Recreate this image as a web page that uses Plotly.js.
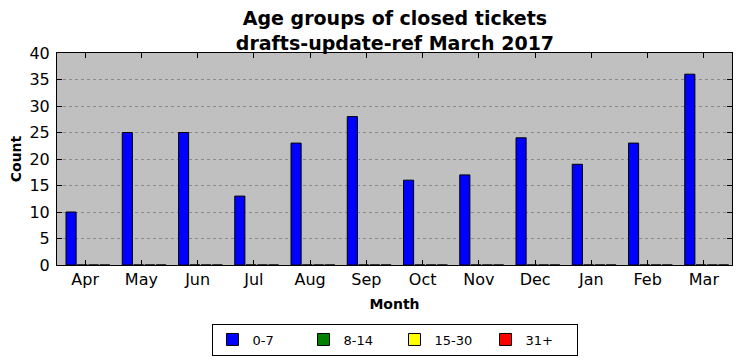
<!DOCTYPE html>
<html>
<head>
<meta charset="utf-8">
<script src="https://cdn.plot.ly/plotly-3.0.1.min.js"></script>
<style>html,body{margin:0;padding:0;background:#fff;}#chart{width:741px;height:361px;}</style>
</head>
<body>
<div id="chart"></div>
<script>
const months = ["Apr","May","Jun","Jul","Aug","Sep","Oct","Nov","Dec","Jan","Feb","Mar"];
const seriesNames = ["0-7","8-14","15-30","31+"];
const age0to7 = [10,25,25,13,23,28,16,17,24,19,23,36];
const age8to14 = [0,0,0,0,0,0,0,0,0,0,0,0];
const age15to30 = [0,0,0,0,0,0,0,0,0,0,0,0];
const age31plus = [0,0,0,0,0,0,0,0,0,0,0,0];
const seriesValues = [age0to7, age8to14, age15to30, age31plus];
const colors = ["#0000ff","#008000","#ffff00","#ff0000"];
const offsets = [-0.34,-0.14,0.06,0.26];

const traces = seriesValues.map((vals,i)=>({
  type:'bar', name:seriesNames[i], x:months, y:vals,
  offset:offsets[i], width:0.18,
  marker:{color:colors[i], line:{color:'#000', width:1}}
}));

const layout = {
  width:741, height:361,
  margin:{l:57, r:9, t:53, b:96, autoexpand:false},
  paper_bgcolor:'#ffffff', plot_bgcolor:'#c0c0c0',
  font:{family:'DejaVu Sans', color:'#000', size:15},
  barmode:'overlay',
  title:{text:'<b>Age groups of closed tickets<br>drafts-update-ref March 2017</b>', font:{size:19}, x:0.533, xanchor:'center', yref:'container', y:0.93, yanchor:'middle', automargin:false},
  xaxis:{type:'category', range:[-0.5,11.5], automargin:false, ticks:'inside', ticklen:5, tickcolor:'#000', mirror:'ticks', showline:true, linecolor:'#000', linewidth:1, showgrid:false,
    ticklabelstandoff:0,
    title:{text:'<b>Month</b>', font:{size:14}, standoff:10}, tickfont:{size:16}},
  yaxis:{range:[0,40], dtick:5, automargin:false, ticks:'inside', ticklen:5, tickcolor:'#000', mirror:'ticks', showline:true, linecolor:'#000', linewidth:1,
    showgrid:true, gridcolor:'#8a8a8a', griddash:'dot', gridwidth:1, zeroline:false,
    ticklabelstandoff:3,
    title:{text:'<b>Count</b>', font:{size:14}, standoff:4}, tickfont:{size:16}},
  showlegend:true,
  legend:{orientation:'h', x:0.5, xanchor:'center', y:-0.276, yanchor:'top', bordercolor:'#000', borderwidth:1, bgcolor:'#fff', font:{size:13}, traceorder:'normal', itemwidth:30, entrywidth:46}
};
Plotly.newPlot('chart', traces, layout, {staticPlot:true});
</script>
</body>
</html>
